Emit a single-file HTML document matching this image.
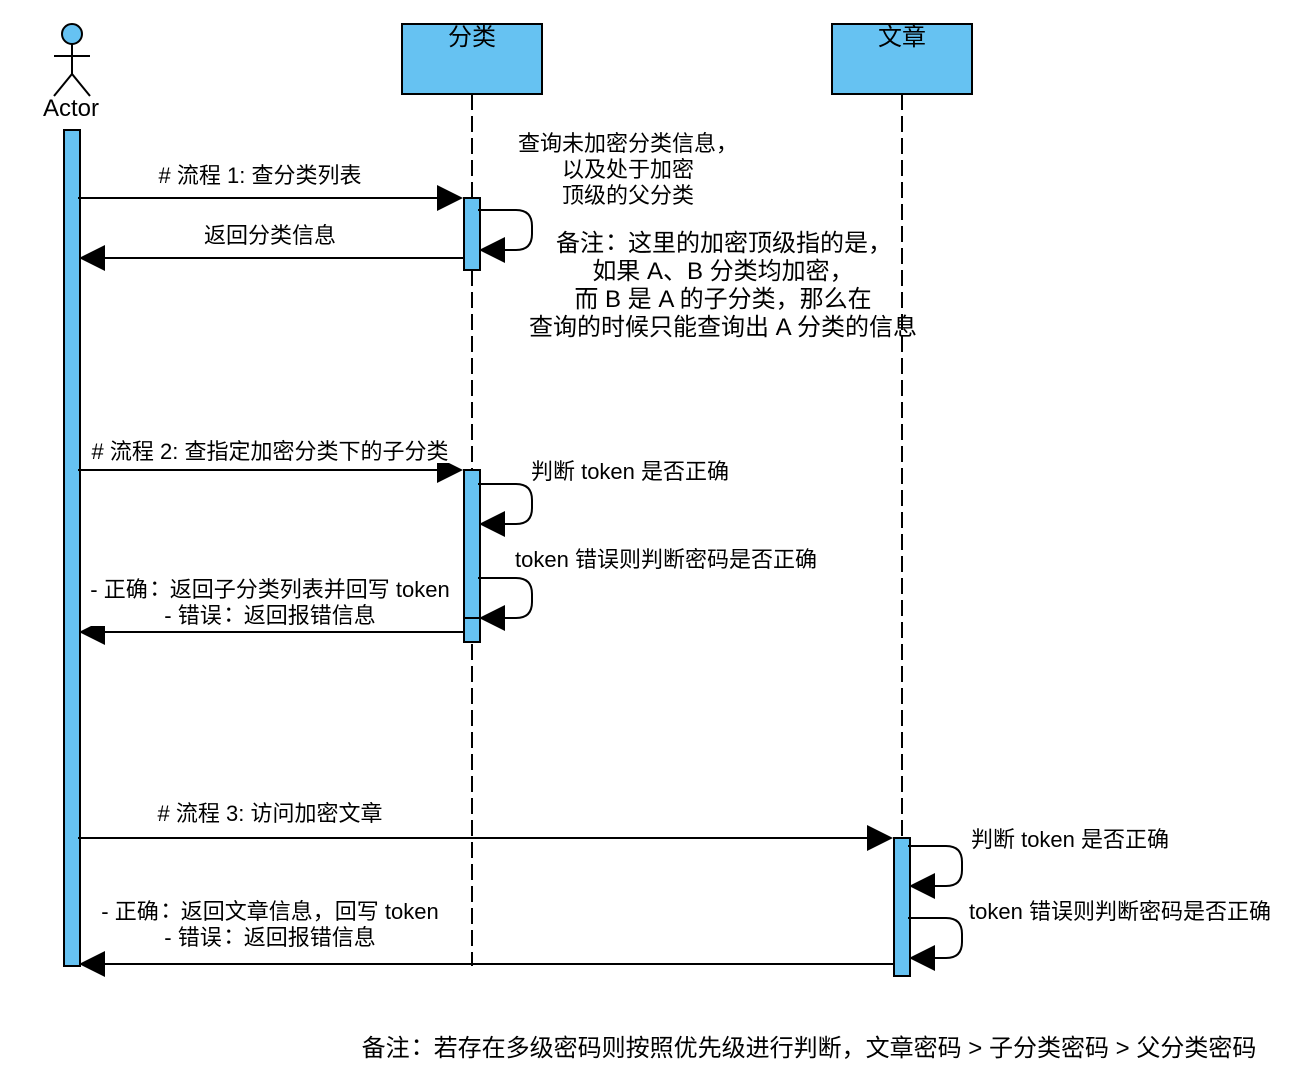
<!DOCTYPE html>
<html><head><meta charset="utf-8"><style>
html,body{margin:0;padding:0;background:#fff}
svg{display:block}
text{font-family:"Liberation Sans","Noto Sans CJK SC",sans-serif;fill:#000;text-anchor:middle;font-size:22px}
.b{font-size:24px}
.c{font-family:"Noto Sans CJK TC",sans-serif}
</style></head><body>
<svg width="1296" height="1088" viewBox="0 0 1296 1088" xmlns="http://www.w3.org/2000/svg">
<g fill="none" stroke="#000" stroke-width="2">
<line x1="472" y1="94" x2="472" y2="966" stroke-dasharray="16 6"/>
<line x1="902" y1="94" x2="902" y2="838" stroke-dasharray="16 6"/>
<rect x="402" y="24" width="140" height="70" fill="#66c2f2"/>
<rect x="832" y="24" width="140" height="70" fill="#66c2f2"/>
<rect x="64" y="130" width="16" height="836" fill="#66c2f2"/>
<circle cx="72" cy="34" r="10" fill="#66c2f2"/>
<path d="M72 44V74M54 56H90M54 96L72 74L90 96"/>
<rect x="464" y="198" width="16" height="72" fill="#66c2f2"/>
<rect x="464" y="470" width="16" height="172" fill="#66c2f2"/>
<rect x="894" y="838" width="16" height="138" fill="#66c2f2"/>
<line x1="464" y1="618" x2="480" y2="618"/>
<path d="M78 198H440M464 258H100M78 470H440M464 632H100M78 838H870M894 964H100"/>
<path d="M478 210H516Q532 210 532 226V234Q532 250 516 250H500"/>
<path d="M478 484H516Q532 484 532 500V508Q532 524 516 524H500"/>
<path d="M478 578H516Q532 578 532 594V602Q532 618 516 618H500"/>
<path d="M908 846H946Q962 846 962 862V870Q962 886 946 886H930"/>
<path d="M908 918H946Q962 918 962 934V942Q962 958 946 958H930"/>
</g>
<g fill="#000">
<path d="M463 198L437 185V211Z"/>
<path d="M79 258L105 245V271Z"/>
<path d="M463 470L437 457V483Z"/>
<path d="M79 632L105 619V645Z"/>
<path d="M893 838L867 825V851Z"/>
<path d="M79 964L105 951V977Z"/>
<path d="M479 250L505 237V263Z"/>
<path d="M479 524L505 511V537Z"/>
<path d="M479 618L505 605V631Z"/>
<path d="M909 886L935 873V899Z"/>
<path d="M909 958L935 945V971Z"/>
</g>
<rect x="90" y="440" width="360" height="23" fill="#fff"/>
<rect x="90" y="578" width="360" height="48" fill="#fff"/>
<text x="71" y="116" class="b">Actor</text>
<text x="472" y="45" class="b">分类</text>
<text x="902" y="45" class="b">文章</text>
<text x="260" y="183"># 流程 1: 查分类列表</text>
<text x="270" y="243">返回分类信息</text>
<text x="628" y="151">查询未加密分类信息&#xFF0C;</text>
<text x="628" y="177">以及处于加密</text>
<text x="628" y="203">顶级的父分类</text>
<text x="724" y="251" class="b">备注<tspan class="c" dx="-5">&#xFF1A;</tspan><tspan dx="5">这里的加密顶级指的是&#xFF0C;</tspan></text>
<text x="723" y="279" class="b">如果 A、B 分类均加密&#xFF0C;</text>
<text x="723" y="307" class="b">而 B 是 A 的子分类&#xFF0C;那么在</text>
<text x="723" y="335" class="b">查询的时候只能查询出 A 分类的信息</text>
<text x="270" y="459"># 流程 2: 查指定加密分类下的子分类</text>
<text x="630" y="479">判断 token 是否正确</text>
<text x="666" y="567">token 错误则判断密码是否正确</text>
<text x="270" y="597">- 正确<tspan class="c" dx="-4">&#xFF1A;</tspan><tspan dx="4">返回子分类列表并回写 token</tspan></text>
<text x="270" y="623">- 错误<tspan class="c" dx="-4">&#xFF1A;</tspan><tspan dx="4">返回报错信息</tspan></text>
<text x="270" y="821"># 流程 3: 访问加密文章</text>
<text x="1070" y="847">判断 token 是否正确</text>
<text x="1120" y="919">token 错误则判断密码是否正确</text>
<text x="270" y="919">- 正确<tspan class="c" dx="-4">&#xFF1A;</tspan><tspan dx="4">返回文章信息&#xFF0C;回写 token</tspan></text>
<text x="270" y="945">- 错误<tspan class="c" dx="-4">&#xFF1A;</tspan><tspan dx="4">返回报错信息</tspan></text>
<text x="809" y="1056" class="b">备注<tspan class="c" dx="-5">&#xFF1A;</tspan><tspan dx="5">若存在多级密码则按照优先级进行判断&#xFF0C;文章密码 &gt; 子分类密码 &gt; 父分类密码</tspan></text>
</svg>
</body></html>
